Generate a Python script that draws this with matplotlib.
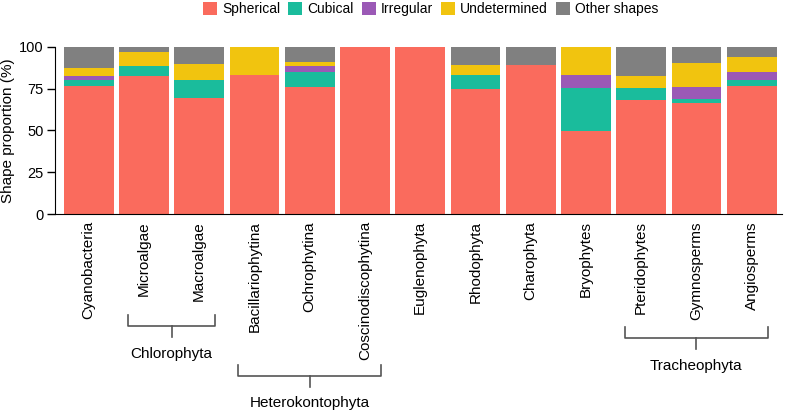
import matplotlib
matplotlib.use("Agg")
import matplotlib.pyplot as plt
import numpy as np

plt.rcParams['font.family'] = ['Liberation Sans', 'DejaVu Sans']

groups = ["Cyanobacteria", "Microalgae", "Macroalgae", "Bacillariophytina",
          "Ochrophytina", "Coscinodiscophytina", "Euglenophyta", "Rhodophyta",
          "Charophyta", "Bryophytes", "Pteridophytes", "Gymnosperms", "Angiosperms"]

shapes = ["Spherical", "Cubical", "Irregular", "Undetermined", "Other shapes"]
colors = ["#FA6B5D", "#1ABC9C", "#9B59B6", "#F1C40F", "#808080"]

# percentages
spherical    = [76.7, 82.5, 69.5, 83.3, 76.1, 100, 100, 75.1, 89.0, 49.6, 68.5, 66.5, 76.5]
cubical      = [3.4, 6.3, 10.6, 0, 8.8, 0, 0, 8.2, 0, 25.7, 7.0, 2.4, 3.6]
irregular    = [2.4, 0, 0, 0, 3.5, 0, 0, 0, 0, 8.0, 0, 7.0, 5.0]
undetermined = [4.6, 8.2, 9.9, 16.7, 2.4, 0, 0, 5.7, 0, 16.7, 7.2, 14.3, 8.9]
other        = [12.9, 3.0, 10.0, 0, 9.2, 0, 0, 11.0, 11.0, 0, 17.3, 9.8, 6.0]

# bracket groups: (label, first bar, last bar, top of bracket in axes fraction)
brackets = [("Chlorophyta", 1, 2, -0.604), ("Heterokontophyta", 3, 5, -0.900),
            ("Tracheophyta", 10, 12, -0.675)]

fig = plt.figure(figsize=(7.86, 4.11), dpi=100)
ax = fig.add_axes([0.070, 0.479, 0.925, 0.407])

x = np.arange(len(groups))
bottom = np.zeros(len(groups))
for name, vals, c in zip(shapes, [spherical, cubical, irregular, undetermined, other], colors):
    ax.bar(x, vals, 0.9, bottom=bottom, color=c, label=name)
    bottom += np.array(vals)

ax.set_xlim(-0.61, 12.55)
ax.set_ylim(0, 100)
ax.set_yticks([0, 25, 50, 75, 100])
ax.set_xticks(x)
ax.set_xticklabels(groups, rotation=90, fontsize=11)
ax.tick_params(axis='x', length=0, pad=5)
ax.tick_params(axis='y', labelsize=10.5, length=6, width=1, pad=2)
ax.set_ylabel("Shape proportion (%)", fontsize=11, labelpad=3)
ax.spines['top'].set_visible(False)
ax.spines['right'].set_visible(False)

# brackets below the tick labels
trans = ax.get_xaxis_transform()
for label, a, b, top in brackets:
    y2 = top - 0.066
    x0, x1 = a - 0.29, b + 0.29
    xm = (a + b) / 2
    ax.plot([x0, x0, x1, x1], [top, y2, y2, top], color="#555555", lw=1.2,
            transform=trans, clip_on=False)
    ax.plot([xm, xm], [y2, y2 - 0.066], color="#555555", lw=1.2,
            transform=trans, clip_on=False)
    ax.text(xm, top - 0.23, label, transform=trans, ha='center', va='center', fontsize=11)

fig.legend(loc='upper center', bbox_to_anchor=(0.548, 1.025), ncol=5, frameon=False,
           fontsize=10, handlelength=1.0, handleheight=1.0, handletextpad=0.35,
           columnspacing=0.6)

fig.savefig("out.png", dpi=100)
